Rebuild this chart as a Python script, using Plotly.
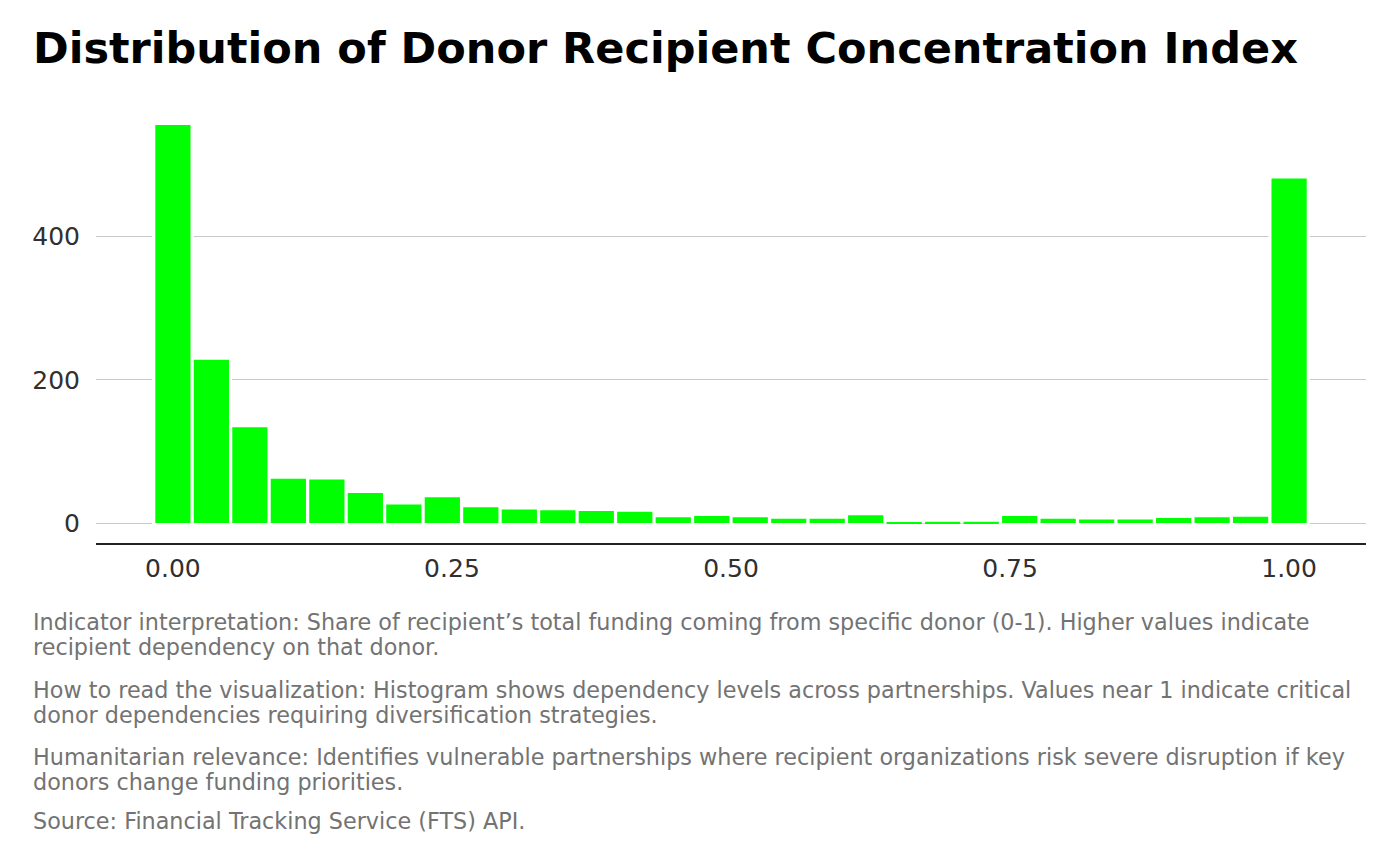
import numpy as np
import plotly.graph_objects as go

# ---- data ----
n_bins = 30
bin_centers = np.linspace(0.0, 1.0, n_bins)
bin_width = 1.0 / (n_bins - 1)
counts = [556, 228, 134, 62, 61, 42, 26, 36, 22, 19,
          18, 17, 16, 8, 10, 8, 6, 6, 11, 1,
          2, 2, 10, 6, 5, 5, 7, 8, 9, 481]

x_tickvals = [0.0, 0.25, 0.5, 0.75, 1.0]
x_ticktext = ["0.00", "0.25", "0.50", "0.75", "1.00"]
y_tickvals = [0, 200, 400]
y_ticktext = ["0", "200", "400"]

title_text = "Distribution of Donor Recipient Concentration Index"
caption_lines = [
    "Indicator interpretation: Share of recipient\u2019s total funding coming from specific donor (0-1). Higher values indicate",
    "recipient dependency on that donor.",
    "How to read the visualization: Histogram shows dependency levels across partnerships. Values near 1 indicate critical",
    "donor dependencies requiring diversification strategies.",
    "Humanitarian relevance: Identifies vulnerable partnerships where recipient organizations risk severe disruption if key",
    "donors change funding priorities.",
    "Source: Financial Tracking Service (FTS) API.",
]
caption_y_px = [622, 647, 690, 715, 756.5, 781.5, 821]

# ---- layout geometry ----
W, H = 1400, 866
L, R, T, B = 96, 34, 105, 323
plot_h = H - T - B
plot_w = W - L - R
TEXT_LEFT = 31

FONT = "DejaVu Sans"
GREEN = "#00FF00"

fig = go.Figure()
# white halo behind each bar (breaks the gridlines around the bars, as in the reference)
fig.add_trace(go.Bar(
    x=bin_centers,
    y=counts,
    base=-3,
    width=[bin_width * 1.08] * n_bins,
    marker=dict(color="white", line=dict(width=0)),
    hoverinfo="skip",
    showlegend=False,
))
fig.add_trace(go.Bar(
    x=bin_centers,
    y=counts,
    width=[bin_width * 0.915] * n_bins,
    marker=dict(color=GREEN, line=dict(width=0)),
    hoverinfo="x+y",
    showlegend=False,
))

annotations = [dict(
    text="<b>" + title_text + "</b>",
    xref="paper", yref="paper",
    x=(TEXT_LEFT - L) / plot_w, y=(H - B - 47.5) / plot_h,
    xanchor="left", yanchor="middle",
    showarrow=False,
    font=dict(family=FONT, size=43, color="#000000"),
)]
for line, ypx in zip(caption_lines, caption_y_px):
    annotations.append(dict(
        text=line,
        xref="paper", yref="paper",
        x=(TEXT_LEFT - L) / plot_w, y=(H - B - ypx) / plot_h,
        xanchor="left", yanchor="middle",
        showarrow=False,
        font=dict(family=FONT, size=22.3, color="#737373"),
    ))

fig.update_layout(
    width=W, height=H,
    margin=dict(l=L, r=R, t=T, b=B, pad=0),
    paper_bgcolor="white",
    plot_bgcolor="white",
    barmode="overlay",
    font=dict(family=FONT, color="#303030"),
    annotations=annotations,
    xaxis=dict(
        range=[-0.0689, 1.0689],
        tickvals=x_tickvals, ticktext=x_ticktext,
        showgrid=False, zeroline=False,
        showline=True, linecolor="#222222", linewidth=2,
        ticks="outside", ticklen=2, tickcolor="rgba(0,0,0,0)",
        tickfont=dict(family=FONT, size=25, color="#303030"),
        fixedrange=True,
    ),
    yaxis=dict(
        range=[-27.8, 583.8],
        tickvals=y_tickvals, ticktext=y_ticktext,
        showgrid=True, gridcolor="#c8c8c8", gridwidth=1.3,
        zeroline=False, showline=False,
        ticks="outside", ticklen=10, tickcolor="rgba(0,0,0,0)",
        tickfont=dict(family=FONT, size=25, color="#303030"),
        fixedrange=True,
    ),
)

fig.write_html("out.html", config={"displayModeBar": False},
               post_script="document.body.style.margin='0px';")
